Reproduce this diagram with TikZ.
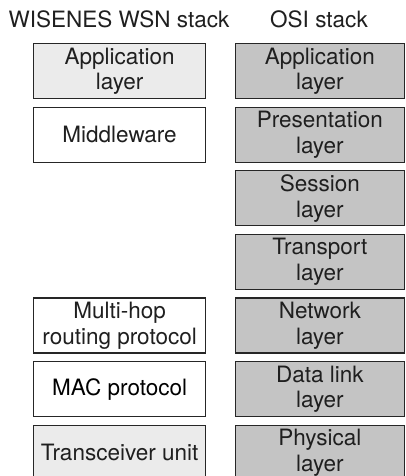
\documentclass[tikz,border=0pt]{standalone}
\usepackage{fontspec}
\setmainfont{TeX Gyre Heros}
\begin{document}
\begin{tikzpicture}[x=1bp,y=1bp,
  layer/.style={draw=black!85, line width=1.2bp, anchor=north west,
    minimum height=55bp, inner sep=0pt, align=center, text=black!88,
    font=\fontsize{22.5bp}{25.5bp}\selectfont},
  wsnbox/.style={layer, minimum width=172bp, fill=white},
  wsnlight/.style={wsnbox, fill=black!8},
  osibox/.style={layer, minimum width=169.5bp, fill=black!23},
  heading/.style={anchor=base, inner sep=0pt, text=black!88,
    font=\fontsize{22.5bp}{25.5bp}\selectfont}
]
\useasboundingbox (0,0) rectangle (405,-476);

% column headings
\node[heading] (hw) at (119,-28) {WISENES WSN stack};
\node[heading] (ho) at (319,-28) {OSI stack};

% WISENES WSN stack
\node[wsnlight] (w1) at (33,-43)    {Application\\layer};
\node[wsnbox]   (w2) at (33,-106.6) {Middleware};
\node[wsnbox]   (w5) at (33,-297.4) {Multi-hop\\routing protocol};
\node[wsnbox, text=black] (w6) at (33,-361) {MAC protocol};
\node[wsnlight] (w7) at (33,-424.6) {Transceiver unit};

% OSI stack
\node[osibox] (o1) at (234.5,-43)    {Application\\layer};
\node[osibox] (o2) at (234.5,-106.6) {Presentation\\layer};
\node[osibox] (o3) at (234.5,-170.2) {Session\\layer};
\node[osibox] (o4) at (234.5,-233.8) {Transport\\layer};
\node[osibox] (o5) at (234.5,-297.4) {Network\\layer};
\node[osibox] (o6) at (234.5,-361)   {Data link\\layer};
\node[osibox] (o7) at (234.5,-424.6) {Physical\\layer};
\end{tikzpicture}
\end{document}
